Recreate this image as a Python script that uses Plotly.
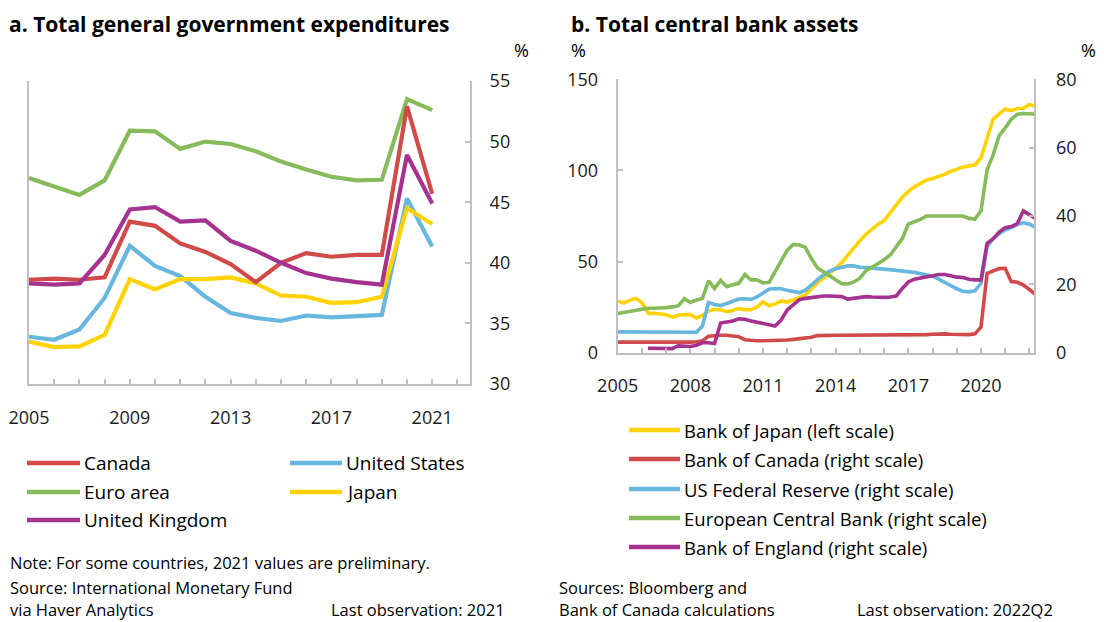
import plotly.graph_objects as go

# ---------------- Panel a: annual data ----------------
years = list(range(2005, 2022))
canada = [38.6, 38.7, 38.6, 38.8, 43.4, 43.05, 41.6, 40.9, 39.9, 38.4, 40.0, 40.8, 40.5, 40.65, 40.65, 52.9, 45.7]
united_states = [33.9, 33.65, 34.5, 37.1, 41.4, 39.75, 38.9, 37.2, 35.85, 35.45, 35.2, 35.65, 35.5, 35.6, 35.7, 45.3, 41.35]
euro_area = [47.0, 46.3, 45.6, 46.8, 50.9, 50.85, 49.4, 50.0, 49.8, 49.2, 48.35, 47.7, 47.1, 46.8, 46.85, 53.5, 52.6]
japan = [33.5, 33.05, 33.1, 34.05, 38.65, 37.8, 38.65, 38.65, 38.8, 38.3, 37.3, 37.2, 36.7, 36.75, 37.2, 44.5, 43.2]
united_kingdom = [38.3, 38.2, 38.3, 40.65, 44.4, 44.6, 43.4, 43.5, 41.8, 41.0, 40.0, 39.15, 38.7, 38.4, 38.2, 48.9, 44.9]
a_tick_years = list(range(2005, 2023))
a_label_years = [2005, 2009, 2013, 2017, 2021]
a_yticks = [30, 35, 40, 45, 50, 55]

# ---------------- Panel b: quarterly data ----------------
quarters = [f"{y}Q{q}" for y in range(2005, 2023) for q in range(1, 5)][:70]
bank_of_japan = [28.3, 27.2, 28.8, 29.8, 27.5, 21.8, 21.6, 21.2, 20.8, 19.5, 20.6, 20.9, 20.9, 19.0, 20.5, 22.8,
                 23.8, 23.5, 22.5, 23.2, 24.3, 23.6, 23.6, 25.0, 28.0, 25.8, 26.8, 28.4, 27.8, 28.9, 30.2, 31.8,
                 35.0, 38.5, 41.0, 43.5, 46.3, 49.4, 53.5, 58.0, 61.5, 65.0, 67.9, 70.5, 72.5, 76.5, 81.0, 85.3,
                 88.5, 91.0, 92.9, 94.8, 95.6, 96.5, 97.8, 99.5, 100.8, 101.8, 102.5, 103.0, 107.0, 117.0, 128.2,
                 131.0, 133.7, 132.8, 134.0, 134.1, 136.2, 135.0]
bank_of_canada = [3.1, 3.1, 3.1, 3.1, 3.1, 3.0, 3.0, 2.9, 3.0, 3.0, 3.1, 3.1, 3.1, 3.2, 3.5, 4.8, 5.0, 5.1, 5.1,
                  5.0, 4.7, 3.8, 3.6, 3.5, 3.5, 3.5, 3.6, 3.7, 3.7, 3.9, 4.1, 4.4, 4.5, 5.0, 5.1, 5.1, 5.1, 5.1,
                  5.1, 5.1, 5.2, 5.2, 5.3, 5.3, 5.3, 5.3, 5.3, 5.3, 5.3, 5.3, 5.3, 5.3, 5.4, 5.5, 5.5, 5.4, 5.3,
                  5.3, 5.3, 5.5, 7.5, 23.2, 23.9, 24.6, 24.7, 20.8, 20.6, 19.8, 18.5, 17.1]
us_federal_reserve = [6.1, 6.1, 6.0, 6.0, 6.0, 6.0, 6.0, 6.0, 6.0, 6.0, 6.0, 6.0, 6.0, 6.0, 7.8, 14.7, 14.1, 13.8,
                      14.4, 15.1, 15.7, 15.8, 15.6, 16.3, 17.4, 18.6, 18.8, 18.7, 18.3, 17.9, 17.6, 18.3, 20.0,
                      21.4, 22.8, 23.9, 24.6, 25.1, 25.4, 25.4, 25.0, 24.9, 24.8, 24.6, 24.4, 24.3, 24.1, 24.0,
                      23.7, 23.5, 23.2, 22.9, 22.4, 21.5, 20.5, 19.5, 18.7, 18.0, 17.8, 18.1, 20.3, 31.0, 33.5,
                      34.8, 36.0, 36.6, 37.5, 38.0, 37.6, 36.7]
european_central_bank = [11.5, 11.8, 12.2, 12.5, 12.8, 13.0, 13.0, 13.0, 13.2, 13.4, 13.7, 15.8, 14.7, 15.4, 15.9,
                         21.0, 18.8, 21.2, 19.3, 19.9, 20.3, 22.9, 21.3, 21.3, 20.4, 20.6, 23.8, 27.3, 30.0, 31.7,
                         31.5, 30.8, 27.5, 24.8, 23.6, 22.3, 21.2, 20.2, 20.1, 20.7, 21.8, 24.0, 25.0, 26.0, 27.2,
                         28.6, 31.0, 33.4, 37.6, 38.2, 39.0, 40.0, 40.0, 40.1, 40.1, 40.1, 40.1, 40.0, 39.3, 39.1,
                         41.5, 53.5, 57.9, 63.5, 65.8, 68.3, 69.8, 70.0, 69.9, 69.8]
bank_of_england = [None, None, None, None, None, 1.3, 1.3, 1.3, 1.1, 1.2, 2.0, 1.9, 1.8, 2.2, 2.9, 2.9, 2.7, 8.7,
                   9.0, 9.3, 9.9, 9.8, 9.3, 9.0, 8.6, 8.2, 7.8, 9.6, 12.5, 14.0, 15.5, 15.9, 16.2, 16.5, 16.6,
                   16.6, 16.4, 16.4, 15.7, 15.9, 16.1, 16.4, 16.3, 16.2, 16.2, 16.3, 16.6, 18.8, 20.7, 21.5,
                   21.8, 22.0, 22.5, 22.9, 22.9, 22.5, 22.1, 22.0, 21.5, 21.3, 21.3, 32.0, 33.3, 35.3, 36.6,
                   36.9, 37.8, 41.5, 40.3, 39.3]
b_tick_years = list(range(2005, 2023))
b_label_years = [2005, 2008, 2011, 2014, 2017, 2020]
b_left_ticks = [0, 50, 100, 150]
b_right_ticks = [0, 20, 40, 60, 80]

qx = [int(s[:4]) + (int(s[5]) - 1) / 4 for s in quarters]

RED = "#d04a4a"
BLUE = "#67b6de"
GREEN = "#86bb5b"
YELLOW = "#ffd200"
PURPLE = "#a6328f"
GRAY = "#bfbfbf"
FONT = "Open Sans"
OFF = 8  # page body margin
W, H = 1104 - OFF, 622 - OFF


def px_x(p):
    return (p - OFF) / W


def px_y(p):
    return 1 - (p - OFF) / H


fig = go.Figure()

# Panel a traces (draw order)
a_series = [
    ("Euro area", euro_area, GREEN),
    ("United States", united_states, BLUE),
    ("Japan", japan, YELLOW),
    ("Canada", canada, RED),
    ("United Kingdom", united_kingdom, PURPLE),
]
for name, vals, col in a_series:
    fig.add_trace(go.Scatter(x=years, y=vals, name=name, mode="lines",
                             line=dict(color=col, width=4.2), xaxis="x", yaxis="y", showlegend=False))

# Panel b traces
b_series = [
    ("Bank of Japan (left scale)", bank_of_japan, YELLOW, "y3"),
    ("Bank of Canada (right scale)", bank_of_canada, RED, "y4"),
    ("US Federal Reserve (right scale)", us_federal_reserve, BLUE, "y4"),
    ("European Central Bank (right scale)", european_central_bank, GREEN, "y4"),
    ("Bank of England (right scale)", bank_of_england, PURPLE, "y4"),
]
for name, vals, col, ya in b_series:
    fig.add_trace(go.Scatter(x=qx, y=vals, name=name, mode="lines",
                             line=dict(color=col, width=3.6), xaxis="x2", yaxis=ya, showlegend=False))

axis_common = dict(showgrid=False, zeroline=False, showline=True, linecolor=GRAY, linewidth=2,
                   ticks="inside", tickcolor=GRAY, tickwidth=2, automargin=False,
                   tickfont=dict(family=FONT, size=18, color="#1a1a1a"))

fig.update_layout(
    template="none",
    width=W, height=H, margin=dict(l=0, r=0, t=0, b=0, pad=0, autoexpand=False),
    paper_bgcolor="white", plot_bgcolor="white",
    font=dict(family=FONT, size=18, color="#1a1a1a"),
    showlegend=False,
    xaxis=dict(domain=[px_x(29), px_x(470)], range=[2005, 2022.5], anchor="y",
               tickvals=a_tick_years,
               ticktext=[str(y) if y in a_label_years else "" for y in a_tick_years],
               ticklen=5, ticklabelstandoff=16, **axis_common),
    yaxis=dict(domain=[px_y(384), px_y(81)], range=[30, 55], anchor="x", side="right",
               tickvals=a_yticks, ticklen=5, mirror=True, ticklabelstandoff=14, **axis_common),
    xaxis2=dict(domain=[px_x(617.7), px_x(1034.3)], range=[2005, 2022.2], anchor="y3",
                tickvals=b_tick_years,
                ticktext=[str(y) if y in b_label_years else "" for y in b_tick_years],
                ticklen=5, ticklabelstandoff=16, **axis_common),
    yaxis3=dict(domain=[px_y(352.7), px_y(79.3)], range=[0, 150], anchor="x2", side="left",
                tickvals=b_left_ticks, ticklen=5, ticklabelstandoff=14, **axis_common),
    yaxis4=dict(range=[0, 80], anchor="x2", overlaying="y3", side="right",
                tickvals=b_right_ticks, ticklen=5, ticklabelstandoff=16, **axis_common),
)

ann = []
shapes = []


def txt(x, y, s, size=18, xanchor="left", bold=False, yanchor="middle"):
    ann.append(dict(x=px_x(x), y=px_y(y), xref="paper", yref="paper", text=("<b>%s</b>" % s) if bold else s,
                    showarrow=False, xanchor=xanchor, yanchor=yanchor, borderpad=0,
                    font=dict(family=FONT, size=size, color="#000000")))


def legend_item(x0, x1, y, col, label, size):
    shapes.append(dict(type="line", xref="paper", yref="paper", x0=px_x(x0), x1=px_x(x1),
                       y0=px_y(y), y1=px_y(y), line=dict(color=col, width=4.5)))
    txt(x1 + 3, y, label, size=size)


# legends (panel a: two columns; panel b: one column)
legend_item(27, 80, 463, RED, "Canada", 19)
legend_item(27, 80, 492, GREEN, "Euro area", 19)
legend_item(27, 80, 520, PURPLE, "United Kingdom", 19)
legend_item(290, 342, 463, BLUE, "United States", 19)
legend_item(290, 342, 492, YELLOW, "Japan", 19)
legend_item(629, 680, 430, YELLOW, "Bank of Japan (left scale)", 18.5)
legend_item(629, 680, 459, RED, "Bank of Canada (right scale)", 18.5)
legend_item(629, 680, 489, BLUE, "US Federal Reserve (right scale)", 18.5)
legend_item(629, 680, 518, GREEN, "European Central Bank (right scale)", 18.5)
legend_item(629, 680, 547, PURPLE, "Bank of England (right scale)", 18.5)

txt(8, 8.5, "a. Total general government expenditures", size=21, bold=True, yanchor="top")
txt(570, 8.5, "b. Total central bank assets", size=21, bold=True, yanchor="top")
txt(521, 37, "%", xanchor="center", yanchor="top")
txt(578, 37, "%", xanchor="center", yanchor="top")
txt(1088, 37, "%", xanchor="center", yanchor="top")
txt(9, 562, "Note: For some countries, 2021 values are preliminary.", size=16.5)
txt(9, 587, "Source: International Monetary Fund", size=16.5)
txt(9, 621.5, "via Haver Analytics", size=16.5, yanchor="bottom")
txt(506, 621.5, "Last observation: 2021", size=16.5, xanchor="right", yanchor="bottom")
txt(558, 587, "Sources: Bloomberg and", size=16.5)
txt(558, 621.5, "Bank of Canada calculations", size=16.5, yanchor="bottom")
txt(1054, 621.5, "Last observation: 2022Q2", size=16.5, xanchor="right", yanchor="bottom")
fig.update_layout(annotations=ann, shapes=shapes)

fig.write_html("out.html")
